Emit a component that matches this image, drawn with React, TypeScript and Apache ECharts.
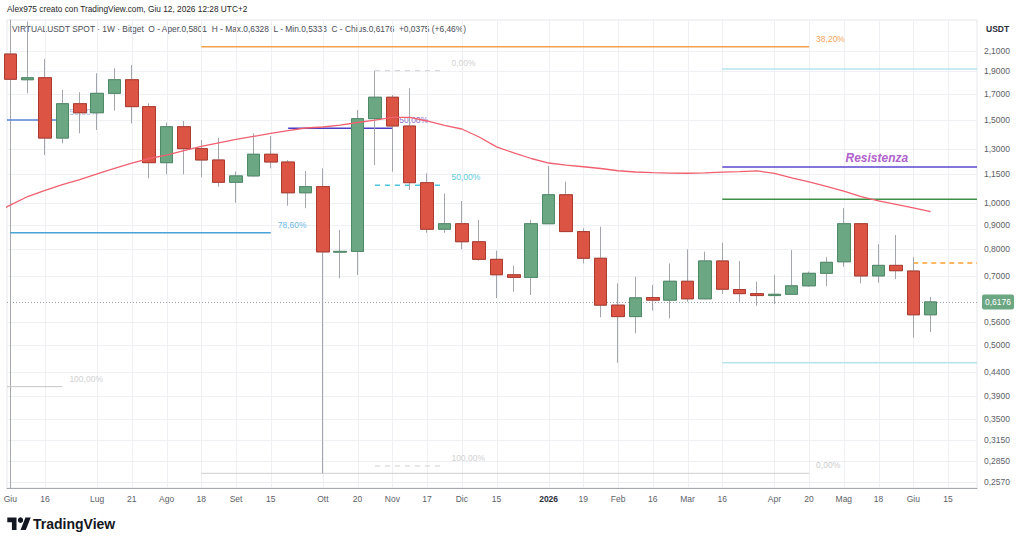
import React, { useEffect, useRef } from 'react';
import * as echarts from 'echarts';

const FONT = '"Liberation Sans", Arial, Helvetica, sans-serif';

// ---- Axis ticks ----
const xTickIndex = [0, 2, 5, 7, 9, 11, 13, 15, 18, 20, 22, 24, 26, 28, 31, 33, 35, 37, 39, 41, 44, 46, 48, 50, 52, 54];
const xTickLabels = ['Giu', '16', 'Lug', '21', 'Ago', '18', 'Set', '15', 'Ott', '20', 'Nov', '17', 'Dic', '15', '2026', '19', 'Feb', '16', 'Mar', '16', 'Apr', '20', 'Mag', '18', 'Giu', '15'];
const yTickValues = [2.1, 1.9, 1.7, 1.5, 1.3, 1.15, 1.0, 0.9, 0.8, 0.7, 0.56, 0.5, 0.44, 0.39, 0.35, 0.315, 0.285, 0.257];

// ---- Weekly OHLC (week index 0 = Giu 2, 2025) ----
const opens = [2.066, 1.823, 1.841, 1.372, 1.622, 1.552, 1.706, 1.823, 1.599, 1.217, 1.450, 1.303, 1.233, 1.106, 1.141, 1.268, 1.221, 1.051, 1.083, 0.787, 0.790, 1.508, 1.674, 1.455, 1.104, 0.880, 0.904, 0.828, 0.760, 0.705, 0.696, 0.904, 1.041, 0.870, 0.764, 0.608, 0.575, 0.631, 0.623, 0.683, 0.627, 0.754, 0.656, 0.643, 0.637, 0.641, 0.668, 0.710, 0.751, 0.904, 0.701, 0.738, 0.718, 0.5801];
const highs = [2.138, 2.420, 2.017, 1.734, 1.715, 1.881, 1.927, 1.959, 1.625, 1.479, 1.491, 1.359, 1.374, 1.165, 1.404, 1.386, 1.233, 1.169, 1.184, 0.877, 1.573, 1.905, 1.692, 1.748, 1.156, 1.048, 1.010, 0.921, 0.793, 0.737, 0.921, 1.197, 1.109, 0.884, 0.891, 0.676, 0.698, 0.671, 0.745, 0.798, 0.789, 0.824, 0.754, 0.682, 0.704, 0.795, 0.716, 0.768, 0.975, 0.906, 0.818, 0.856, 0.768, 0.6328];
const lows = [1.606, 1.706, 1.263, 1.337, 1.404, 1.427, 1.568, 1.474, 1.128, 1.150, 1.150, 1.133, 1.083, 1.001, 1.137, 1.184, 0.987, 0.975, 0.268, 0.693, 0.704, 1.203, 1.165, 1.065, 0.865, 0.865, 0.798, 0.755, 0.629, 0.649, 0.639, 0.903, 0.869, 0.745, 0.573, 0.459, 0.530, 0.592, 0.570, 0.618, 0.626, 0.642, 0.618, 0.606, 0.611, 0.640, 0.665, 0.667, 0.733, 0.676, 0.678, 0.690, 0.519, 0.5333];
const closes = [1.827, 1.841, 1.372, 1.622, 1.552, 1.706, 1.823, 1.599, 1.217, 1.450, 1.303, 1.233, 1.106, 1.141, 1.268, 1.221, 1.051, 1.083, 0.788, 0.790, 1.508, 1.674, 1.455, 1.104, 0.880, 0.904, 0.828, 0.760, 0.705, 0.696, 0.904, 1.041, 0.870, 0.764, 0.608, 0.575, 0.630, 0.623, 0.683, 0.627, 0.754, 0.657, 0.643, 0.637, 0.641, 0.668, 0.710, 0.749, 0.904, 0.701, 0.738, 0.719, 0.5801, 0.6176];

// ---- Moving average (starts at week index -1) ----
const MA_START = -1;
const maValues = [0.948, 0.990, 1.032, 1.063, 1.094, 1.121, 1.152, 1.183, 1.215, 1.242, 1.263, 1.291, 1.317, 1.340, 1.363, 1.383, 1.403, 1.423, 1.441, 1.448, 1.462, 1.480, 1.498, 1.517, 1.517, 1.491, 1.459, 1.434, 1.379, 1.314, 1.276, 1.242, 1.215, 1.203, 1.193, 1.183, 1.170, 1.163, 1.159, 1.157, 1.156, 1.158, 1.162, 1.165, 1.169, 1.155, 1.130, 1.108, 1.084, 1.060, 1.032, 1.010, 0.993, 0.976, 0.959];

// ---- Axis extents ----
const X_MIN = -0.19;
const X_MAX = 55.67;
const Y_MIN = 0.2495;
const Y_MAX = 2.4385;

// ---- Drawings (levels) ----
const drawFrom = [11, 41, 41, 41, 52, 41, X_MIN, 0, X_MIN, 16, 21, 21, 21, 11];
const drawTo = [46, X_MAX, X_MAX, X_MAX, X_MAX, X_MAX, 3, 15, 3, 22, 25, 25, 25, 46];
const drawPrice = [2.141, 1.921, 1.192, 1.018, 0.747, 0.459, 1.498, 0.865, 0.4087, 1.439, 1.905, 1.090, 0.2777, 0.268];
const drawLabel = ['38,20%', '', 'Resistenza', '', '', '', '50,00%', '78,60%', '100,00%', '50,00%', '0,00%', '50,00%', '100,00%', '0,00%'];
const resistLabelAt = 49.9;

const fmt = (v: number) => v.toFixed(4).replace('.', ',');

export default function App() {
  const ref = useRef<HTMLDivElement>(null);

  useEffect(() => {
    const chart = echarts.init(ref.current!, null, { renderer: 'svg' });

    const drawStyles = [
      { color: '#f5a04d', width: 1.5, dash: null, label: '#f2a45a' },
      { color: '#b6e3ee', width: 1.5, dash: null, label: '' },
      { color: '#5a47cf', width: 1.5, dash: null, label: '#b163cc' },
      { color: '#3f8f45', width: 1.5, dash: null, label: '' },
      { color: '#ffa030', width: 1.5, dash: [5, 4], label: '' },
      { color: '#b6e3ee', width: 1.5, dash: null, label: '' },
      { color: '#5b84d8', width: 1.5, dash: null, label: '#a9c0ec' },
      { color: '#4ba3d6', width: 1.5, dash: null, label: '#6db8e6' },
      { color: '#c4c4c4', width: 1, dash: null, label: '#d2d2d2' },
      { color: '#4a3fc4', width: 1.5, dash: null, label: '#8e6fd0' },
      { color: '#d0d0d0', width: 1, dash: [5, 5], label: '#d2d2d2' },
      { color: '#4cc6de', width: 1.5, dash: [5, 5], label: '#5ccbe0' },
      { color: '#d0d0d0', width: 1, dash: [5, 5], label: '#d2d2d2' },
      { color: '#cfcfcf', width: 1, dash: null, label: '#cccccc' },
    ];

    const n = opens.length;
    const wickData = opens.map((o, i) => [i, o, closes[i], lows[i], highs[i]]);
    const bodyData = opens.map((o, i) => [i, o, closes[i], Math.min(o, closes[i]), Math.max(o, closes[i])]);
    const maData = maValues.map((v, i) => [i + MA_START, v]);

    const lastO = opens[n - 1];
    const lastH = highs[n - 1];
    const lastL = lows[n - 1];
    const lastC = closes[n - 1];
    const chg = lastC - lastO;
    const pct = (chg / lastO) * 100;
    const sp = ' \u00a0';
    const legend2 =
      'VIRTUALUSDT SPOT · 1W · Bitget' + sp +
      'O - Aper.' + fmt(lastO) + sp +
      'H - Max.' + fmt(lastH) + sp +
      'L - Min.' + fmt(lastL) + sp +
      'C - Chius.' + fmt(lastC) + sp +
      (chg >= 0 ? '+' : '') + fmt(chg) + ' (' + (pct >= 0 ? '+' : '') + pct.toFixed(2).replace('.', ',') + '%)';

    const option: any = {
      animation: false,
      backgroundColor: '#ffffff',
      textStyle: { fontFamily: FONT },
      grid: {
        left: 7, right: 47, top: 20, bottom: 58,
        show: true, borderColor: '#e6e7ea', borderWidth: 1, backgroundColor: 'transparent',
      },
      xAxis: {
        type: 'value', min: X_MIN, max: X_MAX,
        axisLine: { show: true, onZero: false, lineStyle: { color: '#a5a8b0', width: 1 } },
        axisTick: { show: false },
        splitLine: { show: false },
        axisLabel: {
          customValues: xTickIndex,
          showMinLabel: true, showMaxLabel: true, hideOverlap: false,
          formatter: (v: number) => {
            const k = xTickIndex.indexOf(Math.round(v));
            const t = k >= 0 ? xTickLabels[k] : '';
            return t === '2026' ? '{b|2026}' : t;
          },
          color: '#5d6068', fontSize: 8.5, fontFamily: FONT, margin: 6,
          rich: { b: { fontWeight: 'bold', color: '#2a2e39', fontSize: 8.5, fontFamily: FONT } },
        },
      },
      yAxis: {
        type: 'log', logBase: 10, min: Y_MIN, max: Y_MAX, position: 'right',
        axisLine: { show: true, lineStyle: { color: '#a5a8b0', width: 1 } },
        axisTick: { show: false },
        axisLabel: { show: false },
        splitLine: { show: false },
      },
      graphic: [
        {
          type: 'text', left: 7, top: 5,
          style: { text: 'Alex975 creato con TradingView.com, Giu 12, 2026 12:28 UTC+2', fill: '#1f1f1f', fontSize: 8.3, fontFamily: FONT },
        },
        {
          type: 'text', left: 12, top: 25,
          style: { text: legend2, fill: '#4a4d55', fontSize: 8.4, fontFamily: FONT },
        },
        {
          type: 'text', left: 986, top: 24,
          style: { text: 'USDT', fill: '#2a2e39', fontSize: 8.5, fontWeight: 'bold', fontFamily: FONT },
        },
        {
          type: 'group', x: 7.3, y: 514.6, scaleX: 0.66, scaleY: 0.7,
          children: [
            { type: 'polygon', shape: { points: [[14, 22], [7, 22], [7, 11], [0, 11], [0, 4], [14, 4]] }, style: { fill: '#131722' } },
            { type: 'polygon', shape: { points: [[28, 22], [20, 22], [27.5, 4], [35.5, 4]] }, style: { fill: '#131722' } },
            { type: 'circle', shape: { cx: 20, cy: 8, r: 4 }, style: { fill: '#131722' } },
          ],
        },
        {
          type: 'text', left: 33, top: 517,
          style: { text: 'TradingView', fill: '#131722', fontSize: 14, fontWeight: 'bold', fontFamily: FONT },
        },
      ],
      series: [
        {
          // vertical grid lines
          type: 'custom', name: 'vgrid', z: 0, silent: true,
          data: xTickIndex.map((i) => [i, Y_MIN]),
          encode: { x: 0, y: 1 },
          renderItem: (params: any, api: any) => {
            const x = api.value(0);
            const p1 = api.coord([x, Y_MIN]);
            const p2 = api.coord([x, Y_MAX]);
            const px = Math.round(p1[0]) + 0.5;
            return { type: 'line', shape: { x1: px, y1: p1[1], x2: px, y2: p2[1] }, style: { stroke: '#eef0f3', lineWidth: 1 } };
          },
        },
        {
          // horizontal grid lines + price scale labels
          type: 'custom', name: 'hgrid', z: 0, silent: true,
          data: yTickValues.map((v) => [X_MIN, v]),
          encode: { x: 0, y: 1 },
          renderItem: (params: any, api: any) => {
            const v = api.value(1);
            const p1 = api.coord([X_MIN, v]);
            const p2 = api.coord([X_MAX, v]);
            const py = Math.round(p1[1]) + 0.5;
            return {
              type: 'group',
              children: [
                { type: 'line', shape: { x1: p1[0], y1: py, x2: p2[0], y2: py }, style: { stroke: '#eef0f3', lineWidth: 1 } },
                { type: 'text', x: p2[0] + 7, y: p1[1], style: { text: fmt(v), fill: '#5d6068', fontSize: 8.5, fontFamily: FONT, align: 'left', verticalAlign: 'middle' } },
              ],
            };
          },
        },
        {
          // last price dotted line + tag
          type: 'custom', name: 'lastprice', z: 1, silent: true,
          data: [[X_MAX, lastC]],
          encode: { x: 0, y: 1 },
          renderItem: (params: any, api: any) => {
            const v = api.value(1);
            const p1 = api.coord([X_MIN, v]);
            const p2 = api.coord([X_MAX, v]);
            const py = Math.round(p1[1]) + 0.5;
            return {
              type: 'group',
              children: [
                { type: 'line', shape: { x1: p1[0], y1: py, x2: p2[0], y2: py }, style: { stroke: '#9ea2aa', lineWidth: 1, lineDash: [1, 2] } },
                { type: 'rect', shape: { x: p2[0] + 5, y: p1[1] - 7.5, width: 32, height: 15, r: 2 }, style: { fill: '#6ca784' } },
                { type: 'text', x: p2[0] + 21, y: p1[1], style: { text: fmt(v), fill: '#ffffff', fontSize: 8.5, fontFamily: FONT, align: 'center', verticalAlign: 'middle' } },
              ],
            };
          },
        },
        {
          // drawings (levels)
          type: 'custom', name: 'drawings', z: 1, silent: true,
          data: drawPrice.map((p, i) => [drawFrom[i], p, drawTo[i]]),
          encode: { x: [0, 2], y: 1 },
          renderItem: (params: any, api: any) => {
            const i = params.dataIndex;
            const st = drawStyles[i];
            const v = api.value(1);
            const p1 = api.coord([api.value(0), v]);
            const p2 = api.coord([api.value(2), v]);
            const children: any[] = [
              { type: 'line', shape: { x1: p1[0], y1: p1[1], x2: p2[0], y2: p2[1] }, style: { stroke: st.color, lineWidth: st.width, lineDash: st.dash || undefined } },
            ];
            const txt = drawLabel[i];
            if (txt) {
              if (txt === 'Resistenza') {
                const pl = api.coord([resistLabelAt, v]);
                children.push({ type: 'text', x: pl[0], y: pl[1] - 3, style: { text: txt, fill: st.label, fontSize: 12, fontWeight: 'bold', fontStyle: 'italic', fontFamily: FONT, align: 'center', verticalAlign: 'bottom' } });
              } else {
                children.push({ type: 'text', x: p2[0] + 7, y: p2[1] - 8, style: { text: txt, fill: st.label, fontSize: 8.5, fontFamily: FONT, align: 'left', verticalAlign: 'middle' } });
              }
            }
            return { type: 'group', children };
          },
        },
        {
          // wicks
          type: 'candlestick', name: 'wicks', z: 2, silent: true,
          data: wickData,
          encode: { x: 0, y: [1, 2, 3, 4] },
          barWidth: 13,
          itemStyle: { color: '#a3a6ad', color0: '#a3a6ad', borderColor: '#a3a6ad', borderColor0: '#a3a6ad', borderWidth: 1 },
        },
        {
          // bodies
          type: 'candlestick', name: 'VIRTUALUSDT', z: 3, silent: true,
          data: bodyData,
          encode: { x: 0, y: [1, 2, 3, 4] },
          barWidth: 13,
          itemStyle: { color: '#6ca784', color0: '#dc5443', borderColor: '#4f8a67', borderColor0: '#ad3a2e', borderWidth: 1 },
        },
        {
          type: 'line', name: 'MA', z: 4, silent: true,
          data: maData,
          showSymbol: false, symbol: 'none',
          lineStyle: { color: '#f0606f', width: 1.3 },
        },
      ],
    };

    chart.setOption(option);
    return () => chart.dispose();
  }, []);

  return <div ref={ref} style={{ position: 'fixed', left: 0, top: 0, width: 1024, height: 546, background: '#fff' }} />;
}
